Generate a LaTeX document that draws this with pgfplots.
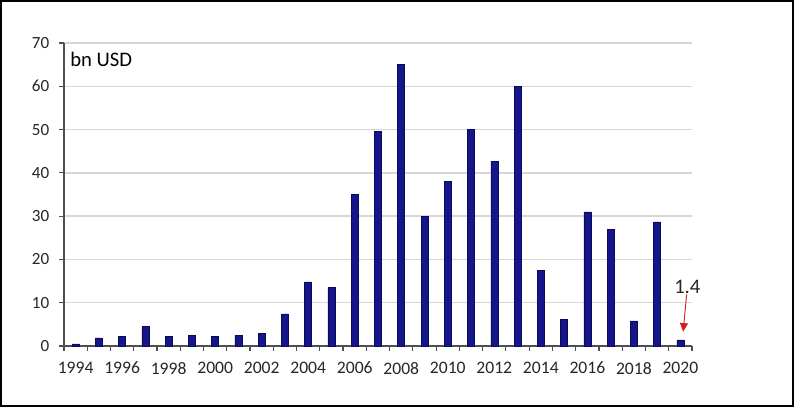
\documentclass[border=0pt]{standalone}
\usepackage{fontspec}
\setmainfont{Carlito}
\usepackage{pgfplots}
\pgfplotsset{compat=1.18}
\usetikzlibrary{arrows.meta,calc}
\definecolor{barblue}{RGB}{22,22,140}
\definecolor{bardark}{RGB}{10,10,90}
\definecolor{gridgray}{RGB}{215,215,215}
\definecolor{axisgray}{RGB}{80,80,80}
\definecolor{arrowred}{RGB}{210,30,30}

\begin{document}
\begin{tikzpicture}
\begin{axis}[
    scale only axis,
    width=471pt, height=227.25pt,
    xmin=1993.5, xmax=2020.5,
    ymin=0, ymax=70,
    axis x line*=bottom, axis y line*=left,
    axis line style={axisgray, line width=0.9pt},
    xtick={1994,1996,...,2020},
    minor xtick={1993.5,1994.5,...,2020.5},
    major x tick style={draw=none},
    minor x tick style={axisgray, line width=0.9pt},
    minor tick length=3.5pt,
    ytick={0,10,...,70},
    major y tick style={axisgray, line width=0.9pt},
    major tick length=3.5pt,
    tick align=outside,
    ymajorgrids,
    grid style={gridgray, line width=1pt},
    x tick label style={/pgf/number format/1000 sep={}, yshift=-5pt, font=\fontsize{13.2}{15}\selectfont},
    y tick label style={xshift=-4pt, font=\fontsize{12.8}{15}\selectfont},
    /pgf/number format/assume math mode=true,
    tick label style={text=black!85},
    clip=false,
]
\addplot[ybar, bar width=5.25pt, fill=barblue, draw=bardark, line width=0.4pt] coordinates {
    (1994,0.5) (1995,1.9) (1996,2.3) (1997,4.6) (1998,2.3) (1999,2.5)
    (2000,2.3) (2001,2.5) (2002,2.9) (2003,7.4) (2004,14.8) (2005,13.5)
    (2006,35.0) (2007,49.5) (2008,65.0) (2009,30.0) (2010,38.0) (2011,50.0)
    (2012,42.7) (2013,60.0) (2014,17.4) (2015,6.1) (2016,31.0) (2017,26.9)
    (2018,5.8) (2019,28.7) (2020,1.4)
};
\node[anchor=west, inner sep=0pt, font=\fontsize{15.5}{18}\selectfont] at (axis cs:1993.5,66.3) {\hspace{4.5pt}bn USD};
\node[font=\fontsize{15.5}{18}\selectfont, text=black!85] at (axis cs:2020.3,13.6) {1.4};
\draw[arrowred, line width=0.7pt, -{Triangle[length=6.5pt,width=6pt]}] (axis cs:2020.27,11.9) -- (axis cs:2020.12,3.3);
\coordinate (ll) at (rel axis cs:0,0);
\end{axis}
\draw[black, line width=1.5pt] ($(ll)+(-47.25pt,-45pt)$) rectangle ($(ll)+(546.75pt,258.75pt)$);
\end{tikzpicture}
\end{document}
